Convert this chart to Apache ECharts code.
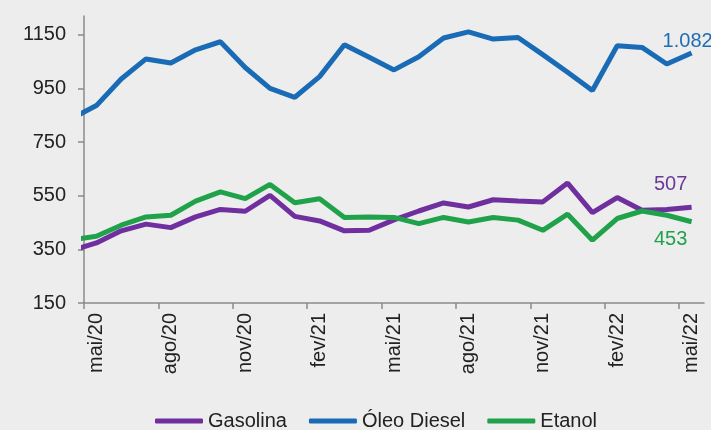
<!DOCTYPE html>
<html>
<head>
<meta charset="utf-8">
<script src="https://cdn.jsdelivr.net/npm/echarts@6/dist/echarts.min.js"></script>
<style>
  html, body { margin: 0; padding: 0; background: #ededed; }
  #chart { width: 711px; height: 430px; }
</style>
</head>
<body>
<div id="chart"></div>
<script>
// Monthly values, abr/20 .. mai/22 (each point sits at mid-month)
const months = ['abr/20','mai/20','jun/20','jul/20','ago/20','set/20','out/20','nov/20','dez/20',
  'jan/21','fev/21','mar/21','abr/21','mai/21','jun/21','jul/21','ago/21','set/21','out/21','nov/21','dez/21',
  'jan/22','fev/22','mar/22','abr/22','mai/22'];
const gasolina = [346,374,419,444,431,471,499,492,551,473,456,419,421,460,493,523,508,535,530,527,597,487,543,496,499,507];
const diesel   = [838,886,985,1060,1045,1094,1124,1028,950,917,994,1113,1066,1019,1068,1138,1161,1134,1140,1076,1010,942,1109,1103,1041,1082];
const etanol   = [385,399,440,471,477,530,564,539,592,524,539,469,471,469,446,469,452,469,459,421,481,384,465,493,477,453];

// Axis labels
const tickLabels = ['mai/20','ago/20','nov/20','fev/21','mai/21','ago/21','nov/21','fev/22','mai/22'];
const yTicks = [150, 350, 550, 750, 950, 1150];

const FONT = 'Liberation Sans, Arial, sans-serif';
const TEXT = '#222222';

// x = months since 1 May 2020; a month's point sits in the middle of it
const xOf = i => i - 0.5;
const tickPos = tickLabels.map((_, k) => 3 * k);
const labelPos = tickLabels.map((_, k) => 3 * k + 0.5);

const fmtBR = v => String(v).replace(/\B(?=(\d{3})+(?!\d))/g, '.');

function build(values, endLabel) {
  const last = values.length - 1;
  return values.map((v, i) => {
    if (i !== last) return [xOf(i), v];
    return { value: [xOf(i), v], label: Object.assign({ show: true, position: 'inside',
      fontSize: 20, fontFamily: FONT, formatter: () => fmtBR(v) }, endLabel) };
  });
}

const chart = echarts.init(document.getElementById('chart'), null, { renderer: 'canvas' });
chart.setOption({
  backgroundColor: '#ededed',
  animation: false,
  grid: { left: 84, right: 7, top: 16, bottom: 127, containLabel: false },
  legend: {
    left: 155, top: 411, padding: 0,
    itemWidth: 48, itemHeight: 5, itemGap: 22,
    icon: 'roundRect',
    textStyle: { fontSize: 20, fontFamily: FONT, color: TEXT },
    data: ['Gasolina', 'Óleo Diesel', 'Etanol']
  },
  xAxis: {
    type: 'value', min: 0, max: 25,
    splitLine: { show: false },
    axisLine: { show: true, lineStyle: { color: '#8a8a8a', width: 1.5 } },
    axisTick: { show: true, length: 6, customValues: tickPos, lineStyle: { color: '#8a8a8a', width: 1.5 } },
    axisLabel: {
      customValues: labelPos, rotate: 90, margin: 10,
      fontSize: 20, fontFamily: FONT, color: TEXT,
      formatter: v => tickLabels[Math.round((v - 0.5) / 3)] || ''
    }
  },
  yAxis: {
    type: 'value', min: 150, max: 1220,
    splitLine: { show: false },
    axisLine: { show: true, lineStyle: { color: '#8a8a8a', width: 1.5 } },
    axisTick: { show: true, length: 6, customValues: yTicks, lineStyle: { color: '#8a8a8a', width: 1.5 } },
    axisLabel: { customValues: yTicks, margin: 18, fontSize: 20, fontFamily: FONT, color: TEXT,
      formatter: v => String(v) }
  },
  series: [
    { name: 'Gasolina', type: 'line', symbol: 'circle', symbolSize: 0, showSymbol: true,
      lineStyle: { width: 5, color: '#6f2f9f' }, itemStyle: { color: '#6f2f9f' },
      data: build(gasolina, { offset: [-21, -23], color: '#6a3a9a' }) },
    { name: 'Óleo Diesel', type: 'line', symbol: 'circle', symbolSize: 0, showSymbol: true,
      lineStyle: { width: 5, color: '#1a6bb5' }, itemStyle: { color: '#1a6bb5' },
      data: build(diesel, { offset: [-4, -12], color: '#1e6db3' }) },
    { name: 'Etanol', type: 'line', symbol: 'circle', symbolSize: 0, showSymbol: true,
      lineStyle: { width: 5, color: '#1fa24a' }, itemStyle: { color: '#1fa24a' },
      data: build(etanol, { offset: [-21, 18], color: '#1fa24a' }) }
  ]
});
</script>
</body>
</html>
